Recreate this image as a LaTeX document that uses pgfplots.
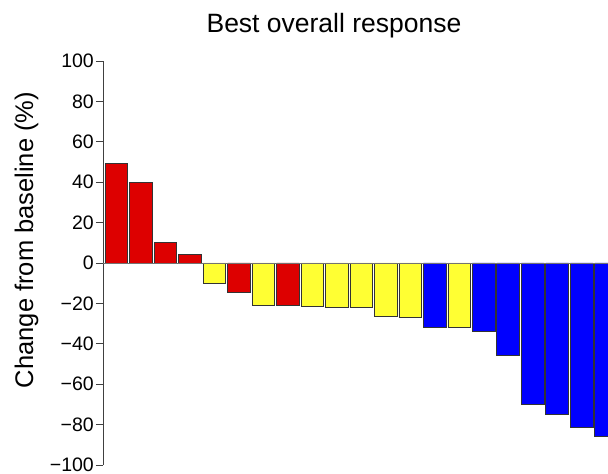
\documentclass[border=0pt]{standalone}
\usepackage{pgfplots}
\pgfplotsset{compat=1.18}
\usepackage{fontspec}
\setmainfont{Liberation Sans}
\definecolor{bred}{HTML}{DD0000}
\definecolor{byel}{HTML}{FFFF33}
\definecolor{bblue}{HTML}{0000FF}
\begin{document}
\begin{tikzpicture}
\path[use as bounding box] (0,0) rectangle (608pt,474pt);
\begin{axis}[
  at={(103pt,9pt)}, anchor=south west,
  scale only axis, width=505pt, height=404pt,
  xmin=0.45, xmax=21.07, ymin=-100, ymax=100,
  axis x line=none, axis y line*=left,
  axis line style={draw=black!75, line width=0.9pt},
  ytick={-100,-80,...,100},
  yticklabels={−100,−80,−60,−40,−20,0,20,40,60,80,100},
  tick style={draw=black!75, line width=0.9pt},
  tick align=outside, major tick length=7pt,
  yticklabel style={font=\fontsize{19.5}{22}\selectfont, xshift=-1pt, inner sep=1pt},
  ybar, bar width=0.93, bar shift=0pt,
  clip=true,
]
\addplot[draw=black!80, line width=0.9pt, fill=bred] coordinates {(1,49.4) (2,39.8) (3,10.2) (4,4.3) (6,-14.7) (8,-21)};
\addplot[draw=black!80, line width=0.9pt, fill=byel] coordinates {(5,-10.2) (7,-20.8) (9,-21.3) (10,-21.9) (11,-22) (12,-26.7) (13,-27.2) (15,-31.9)};
\addplot[draw=black!80, line width=0.9pt, fill=bblue] coordinates {(14,-31.8) (16,-34) (17,-46) (18,-70) (19,-75) (20,-81.3) (21,-85.8)};
\addplot[sharp plot, draw=black!55, line width=0.8pt, forget plot] coordinates {(0.45,0) (21.07,0)};
\end{axis}
\node[font=\fontsize{26.5}{30}\selectfont, anchor=base, inner sep=0pt] at (334pt,441pt) {Best overall response};
\node[font=\fontsize{25.5}{30}\selectfont, rotate=90, anchor=base, inner sep=0pt] at (33pt,234pt) {Change from baseline (\%)};
\end{tikzpicture}
\end{document}
